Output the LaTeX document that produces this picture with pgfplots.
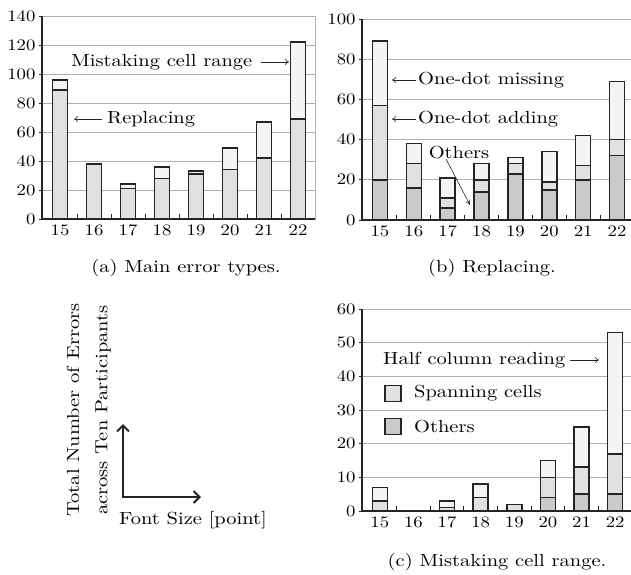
\documentclass[border=0pt]{standalone}
\usepackage{pgfplots}
\pgfplotsset{compat=1.18}
\usetikzlibrary{arrows.meta}
\usepackage{fontspec}
\setmainfont{lmroman10-regular}[Extension=.otf, FakeStretch=1.17]
\definecolor{cA}{HTML}{CACACA}
\definecolor{cB}{HTML}{E1E1E1}
\definecolor{cC}{HTML}{F4F4F4}
\definecolor{edge}{HTML}{2A2222}
\definecolor{gridc}{HTML}{AFAFAF}
\pgfplotsset{
  mybars/.style={
    scale only axis,
    ybar stacked, bar width=15pt, bar shift=0pt,
    xmin=14.47, xmax=22.5,
    xtick={15,...,22},
    minor xtick={15.5,16.5,...,21.5},
    xtick pos=bottom, ytick pos=left,
    xtick align=inside, ytick align=outside,
    major x tick style={draw=none},
    minor x tick style={draw=edge, line width=0.8pt},
    y tick style={draw=edge, line width=0.8pt},
    major tick length=3pt, minor tick length=5pt,
    ymajorgrids, grid style={gridc, line width=0.6pt},
    axis line style={gridc, line width=0.6pt},
    tick label style={font=\fontsize{16}{18}\selectfont},
    /pgf/number format/assume math mode=true,
    xticklabel style={yshift=-2pt},
    every axis plot/.append style={draw=edge, line width=1.5pt},
    after end axis/.code={\draw[edge, line width=1.2pt] (rel axis cs:0,1) -- (rel axis cs:0,0) -- (rel axis cs:1,0);},
  }
}
\newcommand{\tf}{\fontsize{17.5}{20}\selectfont}
\begin{document}
\begin{tikzpicture}[x=1pt,y=1pt]
\useasboundingbox (0,0) rectangle (631,574);
% (a)
\begin{axis}[mybars, at={(42pt,355pt)}, anchor=south west, width=273pt, height=203pt,
  ymin=0, ymax=140, ytick={0,20,...,140}]
\addplot[fill=cB] coordinates {(15,89) (16,38) (17,21) (18,28) (19,31) (20,34) (21,42) (22,69)};
\addplot[fill=cC] coordinates {(15,7) (16,0) (17,3) (18,8) (19,2) (20,15) (21,25) (22,53)};
\end{axis}
% (b)
\begin{axis}[mybars, at={(362pt,354pt)}, anchor=south west, width=272pt, height=201pt,
  ymin=0, ymax=100, ytick={0,20,...,100}]
\addplot[fill=cA] coordinates {(15,20) (16,16) (17,6) (18,14) (19,23) (20,15) (21,20) (22,32)};
\addplot[fill=cB] coordinates {(15,37) (16,12) (17,5) (18,6) (19,5) (20,4) (21,7) (22,8)};
\addplot[fill=cC] coordinates {(15,32) (16,10) (17,10) (18,8) (19,3) (20,15) (21,15) (22,29)};
\end{axis}
% (c)
\begin{axis}[mybars, at={(362pt,63pt)}, anchor=south west, width=270pt, height=202pt,
  ymin=0, ymax=60, ytick={0,10,...,60}]
\addplot[fill=cA] coordinates {(15,0) (17,0) (18,0) (19,0) (20,4) (21,5) (22,5)};
\addplot[fill=cB] coordinates {(15,3) (17,1) (18,4) (19,2) (20,6) (21,8) (22,12)};
\addplot[fill=cC] coordinates {(15,4) (17,2) (18,4) (19,0) (20,5) (21,12) (22,36)};
\end{axis}
% annotations (a)
\node[anchor=west, inner sep=0pt] at (71,512) {\tf Mistaking cell range};
\draw[edge, line width=0.6pt, -{To[length=4pt,width=6pt]}] (261,512) -- (289,512);
\draw[edge, line width=0.6pt, -{To[length=4pt,width=6pt]}] (102,455) -- (74,455);
\node[anchor=west, inner sep=0pt] at (107,455) {\tf Replacing};
% annotations (b)
\draw[edge, line width=0.6pt, -{To[length=4pt,width=6pt]}] (416,494) -- (392,494);
\node[anchor=west, inner sep=0pt] at (418,494) {\tf One-dot missing};
\draw[edge, line width=0.6pt, -{To[length=4pt,width=6pt]}] (416,455) -- (392,455);
\node[anchor=west, inner sep=0pt] at (418,455) {\tf One-dot adding};
\node[inner sep=0pt] at (459,421) {\tf Others};
\draw[edge, line width=0.6pt, -{To[length=5pt,width=5pt]}] (446,415) -- (470,369);
% annotations (c)
\node[anchor=west, inner sep=0pt] at (383,214) {\tf Half column reading};
\draw[edge, line width=0.6pt, -{To[length=4pt,width=6pt]}] (570,214) -- (599,214);
\draw[edge, line width=1.5pt, fill=cB] (385,172.5) rectangle (401,188.5);
\node[anchor=west, inner sep=0pt] at (414,181) {\tf Spanning cells};
\draw[edge, line width=1.5pt, fill=cA] (385,139.5) rectangle (401,155.5);
\node[anchor=west, inner sep=0pt] at (414,147.5) {\tf Others};
% bottom-left key
\node[rotate=90, inner sep=0pt] at (73,164) {\tf Total Number of Errors};
\node[rotate=90, inner sep=0pt] at (103,164) {\tf across Ten Participants};
\draw[edge, line width=2pt, -{Straight Barb[length=6pt,width=12pt]}] (123,77) -- (123,150);
\draw[edge, line width=2pt, -{Straight Barb[length=6pt,width=12pt]}] (122,77) -- (201,77);
\node[anchor=west, inner sep=0pt] at (119,54) {\tf Font Size [point]};
% captions
\node[inner sep=0pt] at (186,306) {\tf (a) Main error types.};
\node[inner sep=0pt] at (492,306) {\tf (b) Replacing.};
\node[inner sep=0pt] at (497,12) {\tf (c) Mistaking cell range.};
\end{tikzpicture}
\end{document}
